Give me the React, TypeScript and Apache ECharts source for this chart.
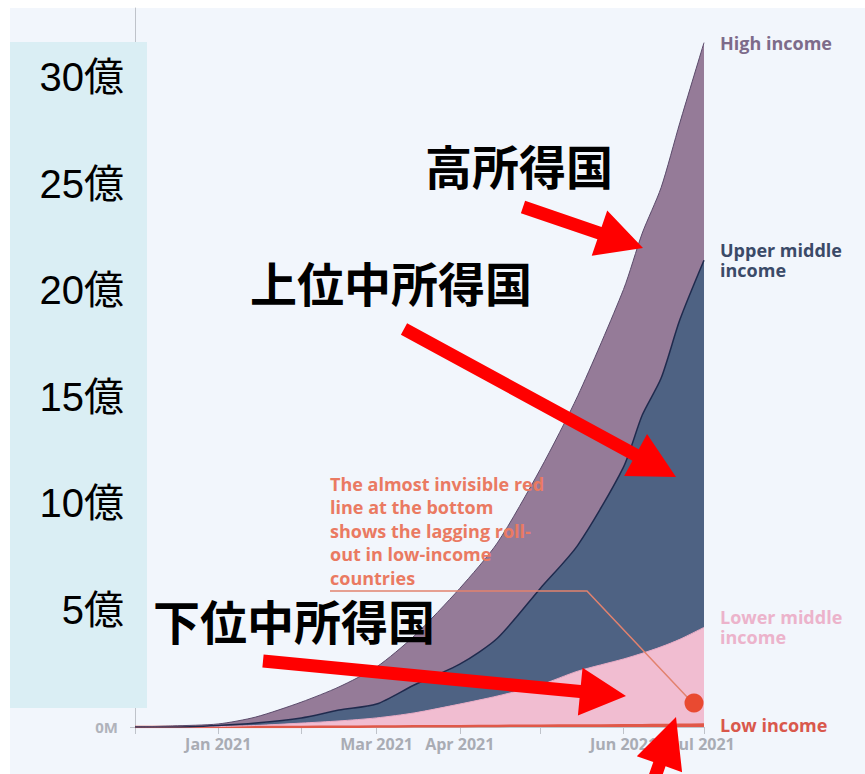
import React, { useEffect, useRef } from "react";
import * as echarts from "echarts";

// Dates of the sampled points
const dates = [
  "2020-12-01", "2020-12-15", "2021-01-01", "2021-01-15", "2021-02-01", "2021-02-15",
  "2021-03-01", "2021-03-15", "2021-04-01", "2021-04-15", "2021-05-01", "2021-05-15",
  "2021-06-01", "2021-06-08", "2021-06-15", "2021-06-22", "2021-07-01",
];
// Cumulative doses per income group, in 億 (100 million)
const lowIncome = [0, 0, 0, 0, 0.005, 0.01, 0.02, 0.03, 0.04, 0.05, 0.06, 0.07, 0.08, 0.085, 0.09, 0.1, 0.11];
const lowerMiddle = [0, 0, 0.02, 0.07, 0.175, 0.27, 0.4, 0.62, 1.02, 1.38, 1.88, 2.51, 3.06, 3.32, 3.61, 3.95, 4.49];
const upperMiddle = [0, 0, 0.05, 0.11, 0.24, 0.5, 0.64, 1.29, 1.84, 2.67, 4.46, 5.82, 8.86, 11.0, 12.4, 14.75, 16.95];
const highIncome = [0, 0.05, 0.07, 0.28, 0.73, 1.07, 1.71, 2.26, 3.5, 4.4, 5.5, 6.9, 8.2, 8.4, 8.8, 9.1, 10.05];

const zeroTick = [0];
const jpTicks = [5, 10, 15, 20, 25, 30];
const monthNames = ["Jan", "Feb", "Mar", "Apr", "May", "Jun", "Jul", "Aug", "Sep", "Oct", "Nov", "Dec"];
const shownMonths = [0, 2, 3, 5, 6];

const annotationText = [
  "The almost invisible red",
  "line at the bottom",
  "shows the lagging roll-",
  "out in low-income",
  "countries",
];

function arrowPoints(x1: number, y1: number, x2: number, y2: number, shaft: number, headW: number, headL: number) {
  const dx = x2 - x1, dy = y2 - y1;
  const len = Math.sqrt(dx * dx + dy * dy);
  const ux = dx / len, uy = dy / len;
  const nx = -uy, ny = ux;
  const bx = x2 - ux * headL, by = y2 - uy * headL;
  const s = shaft / 2, h = headW / 2;
  return [
    [x1 + nx * s, y1 + ny * s],
    [bx + nx * s, by + ny * s],
    [bx + nx * h, by + ny * h],
    [x2, y2],
    [bx - nx * h, by - ny * h],
    [bx - nx * s, by - ny * s],
    [x1 - nx * s, y1 - ny * s],
  ];
}

export default function App() {
  const ref = useRef<HTMLDivElement>(null);
  useEffect(() => {
    document.body.style.margin = "0";
    if (!ref.current) return;
    const chart = echarts.init(ref.current, null, { renderer: "svg" });
    const labelFont = "'Open Sans', 'Noto Sans', sans-serif";
    const mk = (
      name: string, values: number[], area: string, line: string, lw: number, labelColor: string
    ) => ({
      name,
      type: "line",
      stack: "total",
      smooth: 0.25,
      showSymbol: false,
      symbol: "none",
      data: dates.map((d, i) => [d, values[i]]),
      lineStyle: { color: line, width: lw },
      areaStyle: { color: area, opacity: 1 },
      itemStyle: { color: area },
      endLabel: {
        show: true,
        formatter: () => name,
        color: labelColor,
        fontSize: 18,
        fontWeight: 700,
        fontFamily: labelFont,
        lineHeight: 20,
        distance: 16,
        verticalAlign: "middle",
        align: "left",
      },
      emphasis: { disabled: true },
    });

    const jpStyle = (text: string, x: number, y: number) => ({
      type: "text",
      x,
      y,
      z: 30,
      style: {
        text,
        fill: "#000000",
        font: "bold 47px 'Noto Sans CJK JP', sans-serif",
        textVerticalAlign: "middle",
        textAlign: "left",
      },
    });
    const arrow = (x1: number, y1: number, x2: number, y2: number, hw = 48, hl = 46) => ({
      type: "polygon",
      z: 30,
      shape: { points: arrowPoints(x1, y1, x2, y2, 13, hw, hl) },
      style: { fill: "#ff0000" },
    });

    chart.setOption({
      animation: false,
      backgroundColor: "#ffffff",
      grid: { left: 135, right: 161, top: 8, bottom: 47, containLabel: false, outerBoundsMode: "none" },
      xAxis: {
        type: "time",
        min: "2020-12-01",
        max: "2021-07-01",
        splitNumber: 7,
        minInterval: 28 * 86400000,
        maxInterval: 31 * 86400000,
        axisLine: { show: true, lineStyle: { color: "#bfc3ca", width: 1 } },
        axisTick: { show: true, length: 7, lineStyle: { color: "#bfc3ca" } },
        splitLine: { show: false },
        axisLabel: {
          color: "#a9acb4",
          fontSize: 16,
          fontWeight: 700,
          fontFamily: labelFont,
          margin: 9,
          hideOverlap: false,
          formatter: (v: number) => {
            const d = new Date(v);
            const m = d.getMonth();
            return shownMonths.indexOf(m) >= 0 ? `${monthNames[m]} ${d.getFullYear()}` : "";
          },
        },
      },
      yAxis: [
        {
          type: "value",
          position: "left",
          min: 0,
          max: 33.2,
          interval: 5,
          z: 0,
          axisLine: { show: true, lineStyle: { color: "#bfc3ca", width: 1 } },
          axisTick: { show: true, length: 5, lineStyle: { color: "#bfc3ca" }, customValues: zeroTick },
          splitLine: { show: false },
          axisLabel: {
            customValues: zeroTick,
            margin: 17,
            color: "#b0b3bb",
            fontSize: 15,
            fontWeight: 700,
            fontFamily: labelFont,
            formatter: (v: number) => (v === 0 ? "0M" : ""),
          },
        },
        {
          // overlay label axis (pasted Japanese labels, slightly offset from the data scale)
          type: "value",
          position: "left",
          offset: 0,
          min: -0.49,
          max: 33.24,
          z: 10,
          axisLine: { show: false },
          axisTick: { show: false },
          splitLine: { show: false },
          axisLabel: {
            customValues: jpTicks,
            showMinLabel: true,
            showMaxLabel: true,
            margin: 11,
            color: "#000000",
            fontSize: 40,
            fontFamily: "'Liberation Sans', Arial, 'Noto Sans CJK JP', sans-serif",
            formatter: (v: number) => (jpTicks.indexOf(v) >= 0 ? `${v}億` : ""),
          },
        },
      ],
      series: [
        mk("Low income", lowIncome, "#e4574a", "#e05848", 2.5, "#d9584c"),
        mk("Lower middle\nincome", lowerMiddle, "#f1bdd1", "#e9aac4", 1, "#ecb3cb"),
        mk("Upper middle\nincome", upperMiddle, "#4e6283", "#1f2a4d", 1.5, "#3b4a68"),
        mk("High income", highIncome, "#957b98", "#5b4b6b", 1, "#7d6b8a"),
      ],
      graphic: [
        {
          type: "rect",
          z: -10,
          shape: { x: 10, y: 8, width: 855, height: 766 },
          style: { fill: "#f2f6fc" },
        },
        {
          type: "rect",
          z: 5,
          shape: { x: 10, y: 42, width: 137, height: 666 },
          style: { fill: "#daeef4" },
        },
        {
          type: "text",
          x: 330,
          y: 472,
          z: 20,
          style: {
            text: annotationText.join("\n"),
            fill: "#ea7a62",
            font: "bold 18px 'Open Sans', sans-serif",
            lineHeight: 23.5,
            textVerticalAlign: "top",
            textAlign: "left",
          },
        },
        {
          type: "polyline",
          z: 20,
          shape: { points: [[330, 591], [587, 591], [688, 698]] },
          style: { stroke: "#e2826e", lineWidth: 1.5, fill: null },
        },
        {
          type: "circle",
          z: 21,
          shape: { cx: 694, cy: 703, r: 9.5 },
          style: { fill: "#e94a31" },
        },
        jpStyle("高所得国", 425, 164),
        jpStyle("上位中所得国", 250, 281),
        jpStyle("下位中所得国", 153, 619),
        arrow(523, 207, 643, 248),
        arrow(404, 329, 676, 477),
        arrow(263, 661, 626, 696),
        arrow(643, 811, 676, 717, 48, 50),
      ],
    });
    return () => chart.dispose();
  }, []);
  return <div ref={ref} style={{ width: 865, height: 774 }} />;
}
